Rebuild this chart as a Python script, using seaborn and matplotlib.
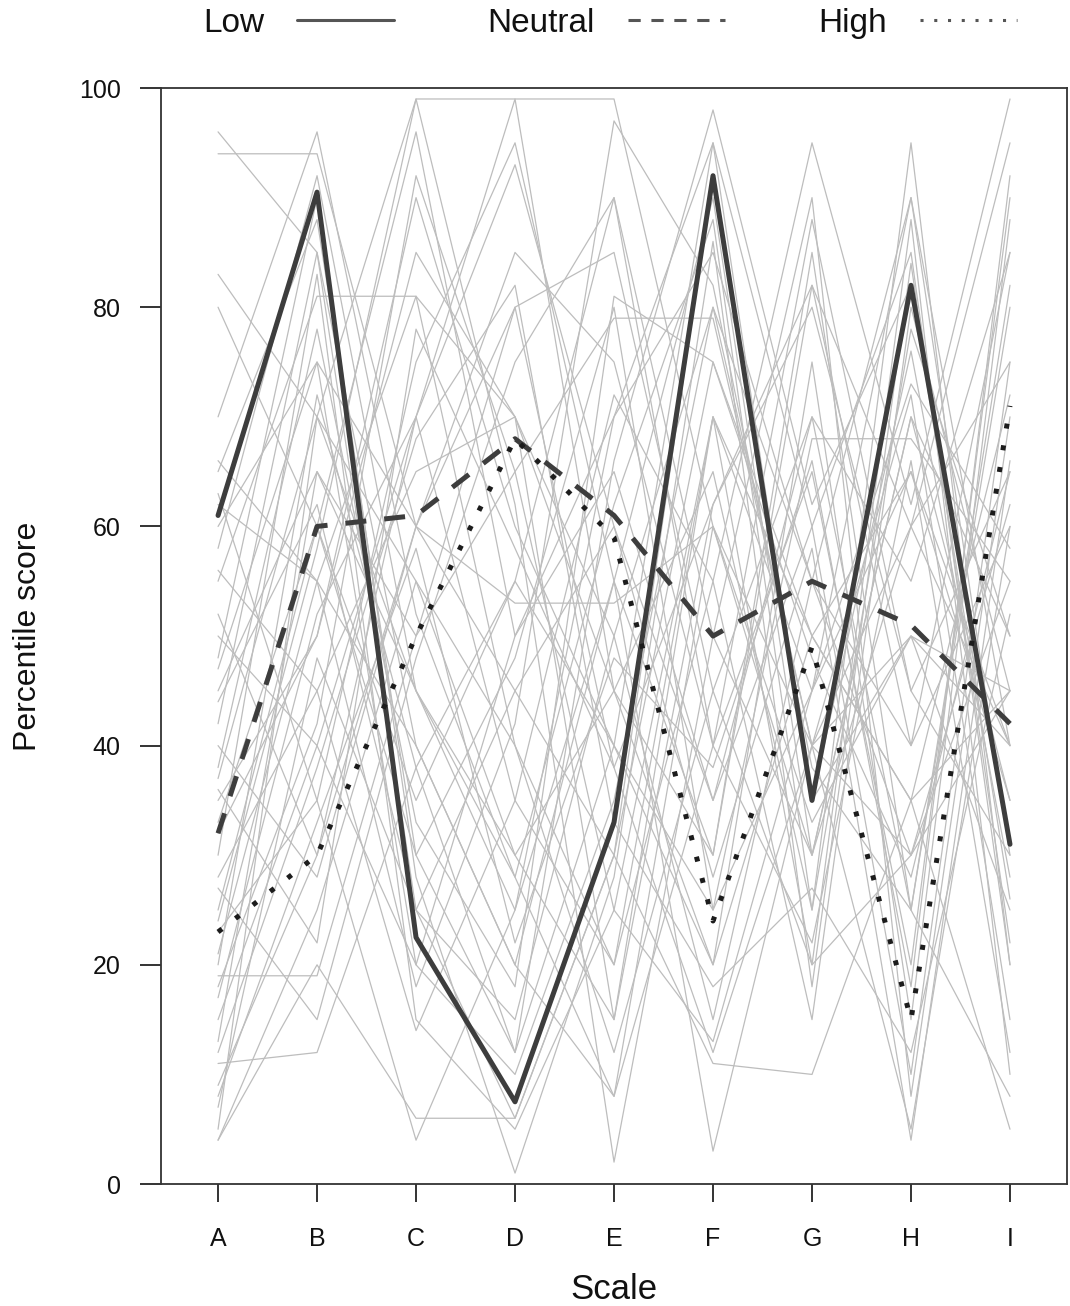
import pandas as pd
import matplotlib
matplotlib.use("Agg")
import matplotlib.pyplot as plt
from matplotlib.lines import Line2D
import seaborn as sns

# scales on the x axis
scales = ["A", "B", "C", "D", "E", "F", "G", "H", "I"]

# group mean profiles
low_means = [61, 90.5, 22.5, 7.5, 33, 92, 35, 82, 31]
neutral_means = [32, 60, 61, 68, 61, 50, 55, 51, 42]
high_means = [23, 30, 50, 68, 59, 24, 49, 15, 71]

# individual profiles drawn in light grey (estimated)
profiles = [
    [94, 94, 60, 45, 30, 75, 50, 65, 40],
    [96, 85, 40, 20, 55, 90, 30, 70, 35],
    [83, 70, 99, 99, 99, 60, 40, 50, 45],
    [80, 60, 96, 50, 70, 85, 55, 40, 60],
    [65, 88, 30, 12, 40, 95, 60, 85, 20],
    [62, 55, 81, 70, 45, 30, 82, 60, 75],
    [58, 92, 45, 28, 62, 88, 25, 78, 50],
    [55, 81, 81, 40, 20, 70, 45, 90, 30],
    [50, 40, 70, 93, 60, 35, 70, 55, 85],
    [47, 75, 20, 10, 35, 80, 40, 72, 15],
    [45, 65, 50, 80, 85, 45, 20, 30, 55],
    [42, 85, 25, 6, 30, 92, 35, 76, 28],
    [40, 28, 60, 85, 75, 40, 65, 20, 90],
    [37, 70, 55, 30, 15, 62, 80, 45, 65],
    [35, 50, 90, 60, 40, 20, 50, 35, 72],
    [33, 60, 35, 55, 90, 50, 30, 60, 40],
    [30, 83, 15, 5, 25, 70, 20, 88, 10],
    [28, 45, 65, 70, 50, 15, 55, 30, 62],
    [25, 60, 30, 48, 80, 25, 45, 65, 35],
    [23, 35, 75, 95, 55, 30, 85, 25, 80],
    [21, 55, 40, 20, 8, 60, 30, 70, 50],
    [19, 19, 50, 65, 79, 79, 40, 30, 45],
    [17, 52, 70, 35, 20, 55, 15, 80, 45],
    [15, 40, 20, 50, 65, 35, 60, 10, 75],
    [13, 65, 45, 25, 70, 95, 35, 50, 25],
    [11, 12, 38, 55, 40, 25, 68, 68, 55],
    [9, 30, 60, 80, 38, 12, 40, 5, 60],
    [7, 48, 25, 15, 50, 80, 55, 90, 40],
    [5, 70, 45, 30, 45, 65, 25, 95, 20],
    [4, 25, 55, 40, 12, 45, 70, 25, 82],
    [4, 20, 6, 6, 30, 11, 10, 35, 45],
    [24, 58, 99, 62, 2, 50, 90, 8, 70],
    [63, 35, 4, 25, 55, 3, 40, 60, 95],
    [48, 90, 28, 1, 28, 86, 18, 84, 22],
    [52, 30, 70, 99, 45, 20, 75, 15, 88],
    [38, 78, 33, 18, 81, 75, 48, 28, 65],
    [27, 15, 48, 75, 90, 40, 88, 45, 30],
    [60, 75, 60, 53, 53, 60, 33, 50, 40],
    [44, 62, 25, 45, 60, 28, 58, 4, 66],
    [32, 50, 85, 70, 15, 70, 50, 35, 5],
    [20, 72, 38, 12, 66, 98, 62, 82, 26],
    [56, 45, 14, 35, 72, 55, 95, 62, 99],
    [12, 38, 68, 82, 33, 18, 27, 12, 52],
    [70, 96, 52, 28, 8, 40, 22, 66, 12],
    [36, 22, 78, 58, 38, 62, 82, 40, 85],
    [66, 55, 18, 42, 97, 82, 38, 25, 8],
    [18, 42, 92, 65, 25, 13, 45, 73, 58],
    [8, 33, 58, 22, 48, 38, 66, 18, 92],
]

sns.set_theme(style="white")
plt.rcParams["font.family"] = ["Liberation Sans", "DejaVu Sans"]
plt.rcParams["text.color"] = "#111111"
plt.rcParams["axes.labelcolor"] = "#111111"
plt.rcParams["xtick.color"] = "#111111"
plt.rcParams["ytick.color"] = "#111111"

rows = []
for i, prof in enumerate(profiles):
    for s, v in zip(scales, prof):
        rows.append({"id": i, "scale": s, "score": v})
df_ind = pd.DataFrame(rows)

df_mean = pd.DataFrame({
    "scale": scales * 3,
    "score": low_means + neutral_means + high_means,
    "group": ["Low"] * 9 + ["Neutral"] * 9 + ["High"] * 9,
})

fig = plt.figure(figsize=(10.7, 13.06), dpi=100)
ax = fig.add_axes([0.1505, 0.0934, 0.8467, 0.8392])

sns.lineplot(data=df_ind, x="scale", y="score", units="id", estimator=None,
             color="#bdbdbd", lw=0.9, ax=ax)

styles = {
    "Low": dict(color="#3d3d3d", linestyle="-"),
    "Neutral": dict(color="#3d3d3d", linestyle=(0, (4.2, 3.6))),
    "High": dict(color="#1c1c1c", linestyle=(0, (1, 3.4))),
}
for grp in ["Low", "Neutral", "High"]:
    sub = df_mean[df_mean["group"] == grp]
    sns.lineplot(data=sub, x="scale", y="score", estimator=None, lw=3.6,
                 ax=ax, **styles[grp])

ax.set_xlim(-0.576, 8.576)
ax.set_ylim(0, 100)
ax.set_yticks([0, 20, 40, 60, 80, 100])
ax.set_xlabel("Scale", fontsize=25, labelpad=16)
ax.set_ylabel("Percentile score", fontsize=23, labelpad=26)
ax.tick_params(axis="y", which="major", left=True, length=15, width=1.4,
               pad=14, labelsize=18, color="#333333")
ax.tick_params(axis="x", which="major", bottom=True, length=13, width=1.4,
               pad=18, labelsize=18, color="#333333")
for sp in ax.spines.values():
    sp.set_visible(True)
    sp.set_color("#333333")
    sp.set_linewidth(1.3)

handles = [
    Line2D([], [], lw=2.2, color="#555555", linestyle="-"),
    Line2D([], [], lw=2.2, color="#555555", linestyle=(0, (4, 3.5))),
    Line2D([], [], lw=2.2, color="#555555", linestyle=(0, (1, 3.5))),
]
fig.legend(handles, ["Low", "Neutral", "High"], ncol=3, loc="upper center",
           bbox_to_anchor=(0.57, 1.017), frameon=False, markerfirst=False,
           fontsize=24, handlelength=2.9, handletextpad=1.0, columnspacing=2.8)

fig.savefig("out.png", dpi=100)
plt.close(fig)
